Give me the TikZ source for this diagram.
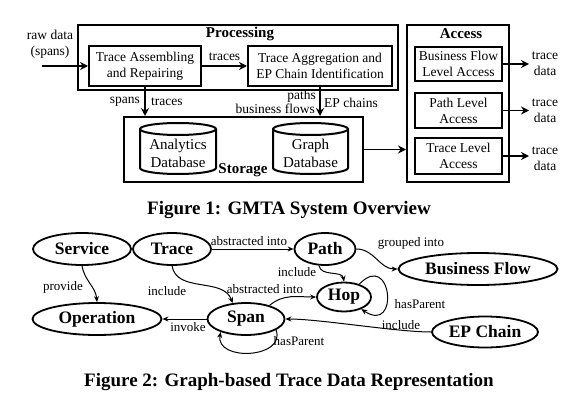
\documentclass[tikz,border=0pt]{standalone}
\usepackage{fontspec}
\setmainfont{Liberation Serif}
\usetikzlibrary{arrows.meta,shapes.geometric}
\begin{document}
\begin{tikzpicture}[x=1pt,y=-1pt,
  bx/.style={draw, line width=2pt, align=center, font=\fontsize{13.5}{16}\selectfont, inner sep=0pt},
  outer/.style={draw, line width=2pt, inner sep=0pt},
  ttl/.style={font=\fontsize{15}{18}\selectfont\bfseries, inner sep=0pt},
  lb1/.style={font=\fontsize{13.5}{16}\selectfont, align=center, inner sep=0pt},
  dbtext/.style={font=\fontsize{15}{18}\selectfont, align=center, inner sep=0pt},
  dbl/.style={line width=2pt},
  arr1/.style={-{Stealth[length=8pt,width=8pt]}, line width=1.8pt},
  ent/.style={ellipse, draw, line width=1.8pt, font=\fontsize{17.5}{20}\selectfont\bfseries, inner sep=0pt},
  lb2/.style={font=\fontsize{13}{14}\selectfont, inner sep=0pt},
  arr2/.style={-{Stealth[length=6pt,width=5pt]}, line width=1pt},
  captxt/.style={font=\fontsize{19}{22}\selectfont\bfseries, inner sep=0pt}]
\useasboundingbox (0,0) rectangle (578,409);

% ---------- Figure 1 ----------
\node[outer, minimum width=320, minimum height=65] (proc) at (238,57.5) {};
\node[ttl] (proct) at (240,34) {Processing};
\node[bx, minimum width=112, minimum height=40] (tar) at (145,66) {Trace Assembling\\and Repairing};
\node[bx, minimum width=144, minimum height=40] (tae) at (320,66) {Trace Aggregation and\\EP Chain Identification};

\node[outer, minimum width=239, minimum height=65] (stor) at (243.5,149.5) {};
\node[ttl] (stort) at (243,170) {Storage};

% cylinders
\draw[dbl] (140,129) -- (140,168) arc[start angle=180,end angle=360,x radius=38pt,y radius=6pt] -- (216,129) arc[start angle=0,end angle=180,x radius=38pt,y radius=6pt] -- cycle;
\draw[dbl] (140,129) arc[start angle=180,end angle=360,x radius=38pt,y radius=6pt];
\node[dbtext] (ad) at (178,153) {Analytics\\Database};
\draw[dbl] (273,129) -- (273,168) arc[start angle=180,end angle=360,x radius=37.5pt,y radius=6pt] -- (348,129) arc[start angle=0,end angle=180,x radius=37.5pt,y radius=6pt] -- cycle;
\draw[dbl] (273,129) arc[start angle=180,end angle=360,x radius=37.5pt,y radius=6pt];
\node[dbtext] (gd) at (310.5,153) {Graph\\Database};

\node[outer, minimum width=102, minimum height=157] (acc) at (458,103.5) {};
\node[ttl] (acct) at (461,34) {Access};
\node[bx, minimum width=87, minimum height=34] (bfla) at (458.5,64) {Business Flow\\Level Access};
\node[bx, minimum width=87, minimum height=35] (pla) at (458.5,110.5) {Path Level\\Access};
\node[bx, minimum width=87, minimum height=36] (tla) at (458.5,156) {Trace Level\\Access};

\coordinate (rawin) at (42,66);
\node[lb1] (raw) at (50,44) {raw data\\(spans)};
\draw[arr1] (rawin) -- (tar.west);
\draw[arr1] (tar.east) -- node[lb1, above=4pt] {traces} (tae.west);
\draw[arr1] (tar.south) -- (tar.south |- stor.north);
\node[lb1, anchor=east] (l1) at (140,102) {spans};
\node[lb1, anchor=west] (l2) at (151,102) {traces};
\draw[arr1] (tae.south) -- (tae.south |- stor.north);
\node[lb1, anchor=east] (l3) at (316,96) {paths};
\node[lb1, anchor=east] (l4) at (315,109) {business flows};
\node[lb1, anchor=west] (l5) at (324,103) {EP chains};
\draw[arr1] (stor.east) -- (stor.east -| acc.west);

\coordinate (o1) at (529,64);
\coordinate (o2) at (529,110.5);
\coordinate (o3) at (529,156);
\draw[arr1] (bfla.east) -- (o1);
\draw[arr1] (pla.east) -- (o2);
\draw[arr1] (tla.east) -- (o3);
\node[lb1] (t1) at (545,64) {trace\\data};
\node[lb1] (t2) at (545,111) {trace\\data};
\node[lb1] (t3) at (545,159) {trace\\data};

\node[captxt] (cap1) at (289,210) {Figure 1: GMTA System Overview};

% ---------- Figure 2 ----------
\node[ent, minimum width=98, minimum height=32] (svc) at (82,249) {Service};
\node[ent, minimum width=78, minimum height=32] (trc) at (172,249) {Trace};
\node[ent, minimum width=129, minimum height=32] (op) at (97,319) {Operation};
\node[ent, minimum width=77, minimum height=32] (span) at (246,319) {Span};
\node[ent, minimum width=61, minimum height=32] (path) at (325,249) {Path};
\node[ent, minimum width=54, minimum height=29] (hop) at (344,297) {Hop};
\node[ent, minimum width=159, minimum height=32] (bf) at (478,269) {Business Flow};
\node[ent, minimum width=106, minimum height=31] (ep) at (485,332) {EP Chain};

\draw[arr2] (trc.east) -- (path.west);
\node[lb2] at (249,241) {abstracted into};
\draw[arr2] (path.east) to[out=0,in=180] (bf.west);
\node[lb2] at (411,243) {grouped into};
\draw[arr2] (path.-110) to[out=-80,in=100] (hop.north);
\node[lb2] at (297,272) {include};
\draw[arr2] (span.30) to[out=40,in=180] (hop.west);
\node[lb2] at (265,289) {abstracted into};
\draw[arr2] (hop.40) .. controls (392,250) and (400,335) .. (hop.-35);
\node[lb2] at (420,304) {hasParent};
\draw[arr2] (ep.west) to[out=180,in=0,looseness=0.6] (span.east);
\node[lb2] at (401,325) {include};
\draw[arr2] (span.-20) to[out=-70,in=-100,looseness=1.4] (span.-153);
\node[lb2] at (299,341) {hasParent};
\draw[arr2] (span.west) -- (op.east);
\node[lb2] at (188,327) {invoke};
\draw[arr2] (trc.south) to[out=-80,in=110] (span.130);
\node[lb2] at (167,291) {include};
\draw[arr2] (svc.south) to[out=-80,in=95] (op.north);
\node[lb2] at (63,287) {provide};

\node[captxt] (cap2) at (289,382) {Figure 2: Graph-based Trace Data Representation};
\end{tikzpicture}
\end{document}
